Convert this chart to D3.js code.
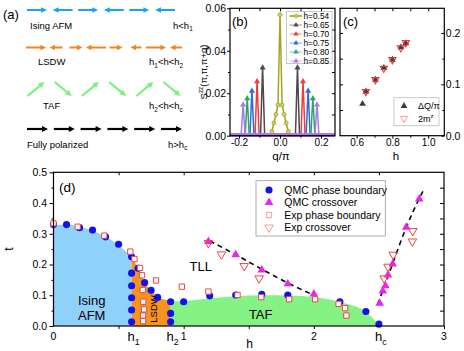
<!DOCTYPE html>
<html>
<head>
<meta charset="utf-8">
<script src="https://cdn.jsdelivr.net/npm/d3@7"></script>
<style>
  body { margin: 0; background: #fff; }
  svg { font-family: "Liberation Sans", Arial, sans-serif; }
</style>
</head>
<body>
<svg id="fig" width="464" height="351"></svg>
<script>
// ---------- data ----------
// (a) spin cartoons: sign = direction, magnitude = relative length
var isingSpins = [1, -1, 1, -1, 1, -1];
var lsdwSpins = [1, -0.65, 0.65, -1, 0.65, -0.55, 1, -0.6];
var tafSpins = [1, -1, 1, -1, 1, -1];
var fpSpins = [1, 1, 1, 1, 1, 1];
var phaseNames = ["Ising AFM", "LSDW", "TAF", "Fully polarized"];
var phaseRanges = ["h<h_{1}", "h_{1}<h<h_{2}", "h_{2}<h<h_{c}", "h>h_{c}"];

// (b) structure factor peaks
var bLabels = ["h=0.54", "h=0.65", "h=0.70", "h=0.75", "h=0.80", "h=0.85"];
var bColors = ["#a3a324", "#4a4a4a", "#f23c3c", "#2a6ae2", "#2ea36c", "#a87ae8"];
var bPeakQ = [0, 0.085, 0.112, 0.137, 0.160, 0.180];
var bPeakS = [0.057, 0.0325, 0.026, 0.0215, 0.018, 0.015];
var olivQ = [-0.05, -0.04, -0.03, -0.02, -0.01, 0, 0.01, 0.02, 0.03, 0.04, 0.05];
var olivS = [0, 0.002, 0.006, 0.010, 0.0145, 0.057, 0.0145, 0.010, 0.006, 0.002, 0];

// (c) incommensurability vs h
var cH = [0.633, 0.652, 0.705, 0.752, 0.80, 0.847, 0.875];
var cDQ = [0.062, 0.086, 0.109, 0.132, 0.148, 0.172, 0.180];
var cM2H = [0.652, 0.705, 0.752, 0.80, 0.847, 0.875];
var cM2 = [0.086, 0.109, 0.131, 0.148, 0.171, 0.181];

// (d) phase diagram
var isingTop = [[0, 0.328], [0.1, 0.33], [0.2, 0.322], [0.3, 0.31], [0.4, 0.29], [0.5, 0.263], [0.6, 0.225]];
var lsdwTop = [[0.6, 0.225], [0.65, 0.188], [0.7, 0.142], [0.75, 0.114], [0.8, 0.095], [0.85, 0.086], [0.9, 0.082]];
var tafTop = [[0.9, 0.08], [1.0, 0.081], [1.2, 0.09], [1.4, 0.097], [1.6, 0.1], [1.8, 0.099], [2.0, 0.094], [2.2, 0.078], [2.4, 0.046], [2.5, 0]];
var tllLine = [[1.2, 0.277], [1.4, 0.232], [1.6, 0.185], [1.8, 0.14], [2.0, 0.1]];
var hcLine = [[2.49, 0.07], [2.56, 0.15], [2.62, 0.22], [2.7, 0.31], [2.76, 0.37], [2.84, 0.44]];

var qmcBoundH = [0.0, 0.1, 0.2, 0.3, 0.4, 0.5, 0.6, 0.6, 0.6, 0.6, 0.6, 0.6, 0.65, 0.7, 0.75, 0.8, 0.9, 0.9, 0.9, 1.0, 1.2, 1.4, 1.6, 1.8, 2.2, 2.4, 2.5];
var qmcBoundT = [0.33, 0.33, 0.32, 0.312, 0.29, 0.266, 0.225, 0.172, 0.131, 0.092, 0.052, 0.014, 0.188, 0.141, 0.116, 0.093, 0.079, 0.041, 0.014, 0.079, 0.098, 0.101, 0.103, 0.101, 0.079, 0.047, 0.006];
var qmcCrossH = [1.19, 1.40, 1.60, 1.80, 2.0, 2.506, 2.53, 2.55, 2.57, 2.606, 2.71, 2.81];
var qmcCrossT = [0.275, 0.232, 0.182, 0.137, 0.104, 0.074, 0.114, 0.131, 0.166, 0.202, 0.321, 0.413];
var expBoundH = [0.0, 0.186, 0.39, 0.59, 0.622, 0.665, 0.68, 0.788, 0.686, 0.69, 0.696, 0.688, 0.688, 0.986, 1.19, 1.414, 1.596, 1.81, 2.01, 2.19, 2.24, 2.25];
var expBoundT = [0.334, 0.323, 0.294, 0.242, 0.218, 0.189, 0.165, 0.148, 0.117, 0.079, 0.054, 0.034, 0.016, 0.128, 0.112, 0.101, 0.094, 0.087, 0.087, 0.072, 0.058, 0.034];
var expCrossH = [1.19, 1.29, 1.465, 1.58, 2.54, 2.57, 2.61, 2.757, 2.76];
var expCrossT = [0.27, 0.233, 0.195, 0.155, 0.155, 0.193, 0.232, 0.275, 0.309];
var dLegend = ["QMC phase boundary", "QMC crossover", "Exp phase boundary", "Exp crossover"];

var dYTicks = [0, 0.1, 0.2, 0.3, 0.4, 0.5];
var dXLabels = [[0, "0"], [0.6, "h_{1}"], [0.9, "h_{2}"], [1, "1"], [2, "2"], [2.5, "h_{c}"], [3, "3"]];

// ---------- helpers ----------
var svg = d3.select("#fig");

// text with _{sub} and ^{sup} pieces
function rich(sel, str, size) {
  var parts = str.split(/([_^]\{[^}]*\})/), shift = 0;
  parts.forEach(function(p) {
    if (!p) return;
    var t = sel.append("tspan");
    if (p[0] === "_" || p[0] === "^") {
      var d = p[0] === "_" ? size * 0.3 : -size * 0.4;
      t.text(p.slice(2, -1)).attr("font-size", size * 0.68).attr("dy", d - shift);
      shift = d;
    } else {
      t.text(p).attr("dy", -shift);
      shift = 0;
    }
  });
  return sel;
}

function label(g, x, y, str, size, anchor) {
  var t = g.append("text").attr("x", x).attr("y", y)
    .attr("font-size", size).attr("text-anchor", anchor || "start");
  return rich(t, str, size);
}

function arrow(g, x1, y1, x2, y2, color, w, hl, hw) {
  var dx = x2 - x1, dy = y2 - y1, L = Math.sqrt(dx * dx + dy * dy);
  var ux = dx / L, uy = dy / L;
  var bx = x2 - ux * hl, by = y2 - uy * hl;
  g.append("line").attr("x1", x1).attr("y1", y1).attr("x2", bx + ux).attr("y2", by + uy)
    .attr("stroke", color).attr("stroke-width", w);
  g.append("path")
    .attr("d", "M" + x2 + "," + y2 + "L" + (bx - uy * hw) + "," + (by + ux * hw) + "L" + (bx + uy * hw) + "," + (by - ux * hw) + "Z")
    .attr("fill", color);
}

function axis(g, gen, tx, ty, fs) {
  var a = g.append("g").attr("transform", "translate(" + tx + "," + ty + ")").call(gen);
  a.select(".domain").remove();
  a.selectAll("text").attr("font-family", null).attr("font-size", fs || 10.5).attr("fill", "#000");
  a.selectAll("line").attr("stroke", "#000");
  return a;
}

function frame(g, x0, y0, x1, y1) {
  g.append("rect").attr("x", x0).attr("y", y0).attr("width", x1 - x0).attr("height", y1 - y0)
    .attr("fill", "none").attr("stroke", "#000").attr("stroke-width", 1.2);
}

// ---------- (a) ----------
var ga = svg.append("g");
ga.append("text").attr("x", 3).attr("y", 19).attr("font-size", 13).text("(a)");

var xIsing = d3.scalePoint().domain(d3.range(isingSpins.length)).range([37, 165]);
isingSpins.forEach(function(s, i) {
  var c = xIsing(i);
  arrow(ga, c - s * 10, 10, c + s * 10, 10, "#1ba3f2", 2, 6, 2.8);
});
var xLsdw = d3.scalePoint().domain(d3.range(lsdwSpins.length)).range([36, 176]);
lsdwSpins.forEach(function(s, i) {
  var c = xLsdw(i);
  arrow(ga, c - s * 10, 47.5, c + s * 10, 47.5, "#f7821e", 2, 5.5, 2.8);
});
var xTaf = d3.scalePoint().domain(d3.range(tafSpins.length)).range([36, 172]);
tafSpins.forEach(function(s, i) {
  var c = xTaf(i);
  arrow(ga, c - 8.5, 89 + s * 7, c + 8.5, 89 - s * 7, "#7cf07c", 2.2, 6, 3);
});
var xFp = d3.scalePoint().domain(d3.range(fpSpins.length)).range([37.5, 171.5]);
fpSpins.forEach(function(s, i) {
  var c = xFp(i);
  arrow(ga, c - s * 10.5, 129, c + s * 10.5, 129, "#000", 2.2, 6, 3);
});

var nameX = [30, 38, 43, 27], rowY = [28.5, 65, 109, 147.5], rangeX = [173, 149, 149, 168];
phaseNames.forEach(function(n, i) {
  label(ga, nameX[i], rowY[i], n, 9.5);
  label(ga, rangeX[i], rowY[i], phaseRanges[i], 9.5);
});

// ---------- (b) ----------
var gb = svg.append("g");
var xB = d3.scaleLinear().domain([-0.244, 0.268]).range([230, 335]);
var yB = d3.scaleLinear().domain([0, 0.06]).range([135.7, 8.3]);
var lineB = d3.line().x(function(d) { return xB(d[0]); }).y(function(d) { return yB(d[1]); });

bPeakQ.forEach(function(q, i) {
  var pts;
  if (i === 0) {
    pts = [[-0.244, 0]].concat(olivQ.map(function(v, j) { return [v, olivS[j]]; }), [[0.268, 0]]);
  } else {
    var s = bPeakS[i];
    pts = [[-0.244, 0], [-q - 0.01, 0], [-q, s], [-q + 0.01, 0], [q - 0.01, 0], [q, s], [q + 0.01, 0], [0.268, 0]];
  }
  gb.append("path").attr("d", lineB(pts)).attr("fill", "none")
    .attr("stroke", bColors[i]).attr("stroke-width", 1.5);
  if (i === 0) {
    olivQ.forEach(function(v, j) {
      if (olivS[j] === 0) return;
      gb.append("circle").attr("cx", xB(v)).attr("cy", yB(olivS[j])).attr("r", 2)
        .attr("fill", "#cfcf70").attr("stroke", bColors[0]).attr("stroke-width", 0.8);
    });
  } else {
    [-q, q].forEach(function(v) {
      gb.append("path").attr("d", d3.symbol(d3.symbolTriangle, 16)())
        .attr("transform", "translate(" + xB(v) + "," + (yB(bPeakS[i]) + 1) + ")")
        .attr("fill", bColors[i]);
    });
  }
});
// purple markers along zero make a thick band
gb.append("line").attr("x1", xB(-0.244)).attr("x2", xB(0.268))
  .attr("y1", yB(0) - 1).attr("y2", yB(0) - 1)
  .attr("stroke", bColors[5]).attr("stroke-width", 3.5);

axis(gb, d3.axisLeft(yB).tickValues([0, 0.02, 0.04, 0.06]).tickFormat(d3.format(".2f")).tickSize(3).tickPadding(1), 230, 0);
axis(gb, d3.axisLeft(yB).tickValues([0.01, 0.03, 0.05]).tickFormat("").tickSize(2), 230, 0);
axis(gb, d3.axisRight(yB).tickValues([0.01, 0.02, 0.03, 0.04, 0.05]).tickFormat("").tickSize(-3), 335, 0);
axis(gb, d3.axisBottom(xB).tickValues([-0.2, 0, 0.2]).tickFormat(function(d) { return d.toFixed(1); }).tickSize(3).tickPadding(0), 0, 135.7, 10);
axis(gb, d3.axisBottom(xB).tickValues([-0.1, 0.1]).tickFormat("").tickSize(2), 0, 135.7);
axis(gb, d3.axisTop(xB).tickValues([-0.2, -0.1, 0, 0.1, 0.2]).tickFormat("").tickSize(-3), 0, 8.3);
frame(gb, 230, 8.3, 335, 135.7);

gb.append("text").attr("x", 232).attr("y", 26).attr("font-size", 13).text("(b)");
gb.append("text").attr("x", 281).attr("y", 159.5).attr("font-size", 11.5).attr("text-anchor", "middle").text("q/π");
var yt = gb.append("text").attr("transform", "translate(207,72) rotate(-90)")
  .attr("font-size", 9.5).attr("text-anchor", "middle");
rich(yt, "S^{zz}(π,π,π+q)", 9.5);

// legend (b)
gb.append("rect").attr("x", 286.5).attr("y", 11.5).attr("width", 45.5).attr("height", 52)
  .attr("fill", "#fff").attr("stroke", "#bbb").attr("stroke-width", 0.8);
bLabels.forEach(function(l, i) {
  var y = 16 + i * 9;
  gb.append("line").attr("x1", 289.5).attr("x2", 302).attr("y1", y).attr("y2", y)
    .attr("stroke", bColors[i]).attr("stroke-width", i === 0 ? 1.6 : 1).attr("opacity", i === 0 ? 1 : 0.6);
  if (i === 0) {
    gb.append("circle").attr("cx", 296).attr("cy", y).attr("r", 1.8)
      .attr("fill", "#cfcf70").attr("stroke", bColors[0]).attr("stroke-width", 0.7);
  } else {
    gb.append("path").attr("d", d3.symbol(d3.symbolTriangle, 12)())
      .attr("transform", "translate(296," + y + ")").attr("fill", bColors[i]);
  }
  gb.append("text").attr("x", 303.5).attr("y", y + 3).attr("font-size", 8.3).text(l);
});

// ---------- (c) ----------
var gc = svg.append("g");
var xC = d3.scaleLinear().domain([0.507, 1.09]).range([340, 444.3]);
var yC = d3.scaleLinear().domain([0, 0.248]).range([135.7, 8.3]);

cH.forEach(function(h, i) {
  gc.append("path").attr("d", d3.symbol(d3.symbolTriangle, 20)())
    .attr("transform", "translate(" + xC(h) + "," + yC(cDQ[i]) + ")").attr("fill", "#3c3c3c");
});
cM2H.forEach(function(h, i) {
  gc.append("path").attr("d", d3.symbol(d3.symbolTriangle, 22)())
    .attr("transform", "translate(" + xC(h) + "," + yC(cM2[i]) + ") rotate(180)")
    .attr("fill", "none").attr("stroke", "#e63a3a").attr("stroke-width", 1.1);
});

axis(gc, d3.axisRight(yC).tickValues([0, 0.1, 0.2]).tickFormat(d3.format(".1f")).tickSize(-3).tickPadding(1.5), 444.3, 0);
axis(gc, d3.axisRight(yC).tickValues([0.05, 0.15]).tickFormat("").tickSize(-2), 444.3, 0);
axis(gc, d3.axisLeft(yC).tickValues([0.05, 0.1, 0.15, 0.2]).tickFormat("").tickSize(-3), 340, 0);
axis(gc, d3.axisBottom(xC).tickValues([0.6, 0.8, 1.0]).tickFormat(d3.format(".1f")).tickSize(3).tickPadding(0), 0, 135.7, 10);
axis(gc, d3.axisBottom(xC).tickValues([0.7, 0.9]).tickFormat("").tickSize(2), 0, 135.7);
axis(gc, d3.axisTop(xC).tickValues([0.6, 0.7, 0.8, 0.9, 1.0]).tickFormat("").tickSize(-3), 0, 8.3);
frame(gc, 340, 8.3, 444.3, 135.7);

gc.append("text").attr("x", 343).attr("y", 26).attr("font-size", 13).text("(c)");
gc.append("text").attr("x", 396).attr("y", 159.5).attr("font-size", 11.5).attr("text-anchor", "middle").text("h");

gc.append("rect").attr("x", 394).attr("y", 97.7).attr("width", 45).attr("height", 28)
  .attr("fill", "#fff").attr("stroke", "#bbb").attr("stroke-width", 0.8);
gc.append("path").attr("d", d3.symbol(d3.symbolTriangle, 20)())
  .attr("transform", "translate(404,106)").attr("fill", "#3c3c3c");
gc.append("path").attr("d", d3.symbol(d3.symbolTriangle, 22)())
  .attr("transform", "translate(404,118.5) rotate(180)")
  .attr("fill", "none").attr("stroke", "#f2a0a0").attr("stroke-width", 1);
gc.append("text").attr("x", 418).attr("y", 109).attr("font-size", 9).text("ΔQ/π");
label(gc, 418, 121.5, "2m^{z}", 9);

// ---------- (d) ----------
var gd = svg.append("g");
var xD = d3.scaleLinear().domain([0, 3]).range([53.5, 444]);
var yD = d3.scaleLinear().domain([0, 0.5]).range([326, 172.3]);
var areaD = d3.area().x(function(d) { return xD(d[0]); }).y0(yD(0))
  .y1(function(d) { return yD(d[1]); }).curve(d3.curveMonotoneX);
var lineD = d3.line().x(function(d) { return xD(d[0]); }).y(function(d) { return yD(d[1]); })
  .curve(d3.curveMonotoneX);

gd.append("path").attr("d", areaD(isingTop)).attr("fill", "#90d1f9");
gd.append("path").attr("d", areaD(lsdwTop)).attr("fill", "#f7931e");
gd.append("path").attr("d", areaD(tafTop)).attr("fill", "#84f284");

gd.append("path").attr("d", lineD(tllLine)).attr("fill", "none").attr("stroke", "#000")
  .attr("stroke-width", 1.6).attr("stroke-dasharray", "5,4");
gd.append("path").attr("d", lineD(hcLine)).attr("fill", "none").attr("stroke", "#000")
  .attr("stroke-width", 1.6).attr("stroke-dasharray", "5,4");

var symCircle = d3.symbol(d3.symbolCircle, 40)();
var symTri = d3.symbol(d3.symbolTriangle, 32)();
var symSq = d3.symbol(d3.symbolSquare, 28)();

qmcBoundH.forEach(function(h, i) {
  gd.append("path").attr("d", symCircle)
    .attr("transform", "translate(" + xD(h) + "," + yD(qmcBoundT[i]) + ")").attr("fill", "#1212ee");
});
qmcCrossH.forEach(function(h, i) {
  gd.append("path").attr("d", symTri)
    .attr("transform", "translate(" + xD(h) + "," + yD(qmcCrossT[i]) + ")").attr("fill", "#ee22ee");
});
expBoundH.forEach(function(h, i) {
  gd.append("path").attr("d", symSq)
    .attr("transform", "translate(" + xD(h) + "," + yD(expBoundT[i]) + ")")
    .attr("fill", "#fff").attr("stroke", "#ee4444").attr("stroke-width", 1);
});
expCrossH.forEach(function(h, i) {
  gd.append("path").attr("d", symTri)
    .attr("transform", "translate(" + xD(h) + "," + yD(expCrossT[i]) + ") rotate(180)")
    .attr("fill", "none").attr("stroke", "#ee4444").attr("stroke-width", 1);
});

axis(gd, d3.axisLeft(yD).tickValues(dYTicks).tickFormat(d3.format(".1f")).tickSize(4).tickPadding(2.5), 53.5, 0);
axis(gd, d3.axisLeft(yD).tickValues([0.05, 0.15, 0.25, 0.35, 0.45]).tickFormat("").tickSize(2), 53.5, 0);
axis(gd, d3.axisRight(yD).tickValues([0.05, 0.1, 0.15, 0.2, 0.25, 0.3, 0.35, 0.4, 0.45]).tickFormat("").tickSize(-4), 444, 0);
axis(gd, d3.axisTop(xD).tickValues([0.5, 1, 1.5, 2, 2.5]).tickFormat("").tickSize(-3), 0, 172.3);
axis(gd, d3.axisBottom(xD).tickValues([0.5, 1, 1.5, 2, 3]).tickFormat("").tickSize(3), 0, 326);
frame(gd, 53.5, 172.3, 444, 326);

dXLabels.forEach(function(d) {
  var isH = d[1].indexOf("h") === 0;
  label(gd, xD(d[0]) + (isH ? 2 : 0), isH ? 341 : 340, d[1], isH ? 13 : 10.5, "middle");
});
gd.append("text").attr("x", 249.5).attr("y", 348).attr("font-size", 12).attr("text-anchor", "middle").text("h");
gd.append("text").attr("transform", "translate(13,249) rotate(-90)").attr("font-size", 12)
  .attr("text-anchor", "middle").text("t");

gd.append("text").attr("x", 59).attr("y", 192).attr("font-size", 13.5).text("(d)");
gd.append("text").attr("x", 91.7).attr("y", 305).attr("font-size", 13).attr("text-anchor", "middle").text("Ising");
gd.append("text").attr("x", 91.7).attr("y", 320).attr("font-size", 13).attr("text-anchor", "middle").text("AFM");
gd.append("text").attr("x", 200.8).attr("y", 271).attr("font-size", 13).attr("text-anchor", "middle").text("TLL");
gd.append("text").attr("x", 260.7).attr("y", 319).attr("font-size", 13).attr("text-anchor", "middle").text("TAF");
gd.append("text").attr("transform", "translate(156.5,309) rotate(-90)").attr("font-size", 9.5)
  .attr("text-anchor", "middle").text("LSDW");

// legend (d)
gd.append("rect").attr("x", 256).attr("y", 180.7).attr("width", 129.3).attr("height", 55.3)
  .attr("fill", "#fff").attr("stroke", "#999").attr("stroke-width", 0.8);
var legSym = [
  function(g) { g.append("path").attr("d", symCircle).attr("fill", "#1212ee"); },
  function(g) { g.append("path").attr("d", symTri).attr("fill", "#ee22ee"); },
  function(g) { g.append("path").attr("d", symSq).attr("fill", "#fff").attr("stroke", "#f29a9a"); },
  function(g) { g.append("path").attr("d", symTri).attr("transform", "rotate(180)").attr("fill", "none").attr("stroke", "#f29a9a"); }
];
dLegend.forEach(function(l, i) {
  var y = 190 + i * 12.5;
  legSym[i](gd.append("g").attr("transform", "translate(269," + y + ")"));
  gd.append("text").attr("x", 284.3).attr("y", y + 3.8).attr("font-size", 10.5).text(l);
});
</script>
</body>
</html>
